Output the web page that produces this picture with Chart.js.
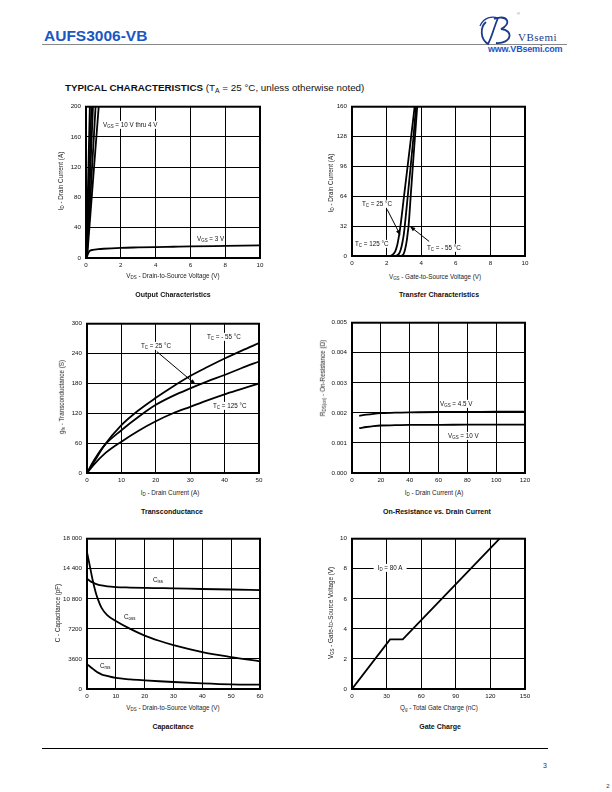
<!DOCTYPE html>
<html>
<head>
<meta charset="utf-8">
<script src="https://cdn.jsdelivr.net/npm/chart.js@4.4.1/dist/chart.umd.min.js"></script>
<style>
body{margin:0;width:612px;height:792px;position:relative;background:#fff;font-family:"Liberation Sans",Arial,sans-serif;color:#111;overflow:hidden}
.t{position:absolute;white-space:nowrap;line-height:1}
.c{transform:translate(-50%,-50%)}
.l{transform:translateY(-50%)}
.ry{transform:translate(-50%,-50%) rotate(-90deg)}
.ax{font-size:6.3px;color:#222}
.ttl{font-size:7px;font-weight:bold;color:#111}
.an{font-size:6.3px;color:#111;background:#fff;padding:1px 1px}
sub{font-size:70%;vertical-align:-0.3em;line-height:0}
canvas{position:absolute}
.hr{position:absolute}
</style>
</head>
<body>

<div class="t l" style="left:44px;top:36px;font-size:15.5px;font-weight:bold;color:#1a56c4">AUFS3006-VB</div>
<div class="hr" style="left:42px;top:43.5px;width:525px;height:1.5px;background:#888"></div>
<svg class="hr" style="left:477px;top:13px" width="40" height="34" viewBox="0 0 40 34">
  <path d="M9 9 C3 14, 3 26, 11 31 C15 24, 17 14, 21 5" fill="none" stroke="#1a3a8a" stroke-width="1.8"/>
  <path d="M17 6 C31 1, 35 11, 24 16 C37 17, 35 31, 19 30" fill="none" stroke="#1a3a8a" stroke-width="1.8"/>
  <path d="M3 13 C7 4, 15 3, 21 5" fill="none" stroke="#1a3a8a" stroke-width="1.3"/>
</svg>
<div class="t l" style="left:518px;top:36.5px;font-size:11px;font-family:'Liberation Serif','DejaVu Serif',serif;color:#1a3a8a;letter-spacing:0.5px;background:#fff">VBsemi</div>
<div class="t" style="left:517px;top:12px;font-size:4px;color:#777">®</div>
<div class="t l" style="left:488px;top:49px;font-size:9px;font-weight:bold;color:#1a56c4;letter-spacing:-0.2px">www.VBsemi.com</div>

<div class="t l" style="left:65px;top:88px;font-size:9.8px;color:#111"><b>TYPICAL CHARACTERISTICS</b> (T<sub>A</sub> = 25 °C, unless otherwise noted)</div>

<!-- chart 1 -->
<canvas id="c1"></canvas>
<div class="t c ax" style="left:173px;top:276px">V<sub>DS</sub> - Drain-to-Source Voltage (V)</div>
<div class="t ry ax" style="left:61px;top:181px">I<sub>D</sub> - Drain Current (A)</div>
<div class="t c ttl" style="left:173px;top:294px">Output Characteristics</div>
<div class="t l an" style="left:102px;top:125px">V<sub>GS</sub> = 10 V thru 4 V</div>
<div class="t l an" style="left:196px;top:239px">V<sub>GS</sub> = 3 V</div>

<!-- chart 2 -->
<canvas id="c2"></canvas>
<div class="t c ax" style="left:435px;top:276.5px">V<sub>GS</sub> - Gate-to-Source Voltage (V)</div>
<div class="t ry ax" style="left:331px;top:183px">I<sub>D</sub> - Drain Current (A)</div>
<div class="t c ttl" style="left:439px;top:294px">Transfer Characteristics</div>
<div class="t l an" style="left:361px;top:204px">T<sub>C</sub> = 25 °C</div>
<div class="t l an" style="left:354px;top:244px">T<sub>C</sub> = 125 °C</div>
<div class="t l an" style="left:426px;top:248px">T<sub>C</sub> = - 55 °C</div>

<!-- chart 3 -->
<canvas id="c3"></canvas>
<div class="t c ax" style="left:170px;top:492.5px">I<sub>D</sub> - Drain Current (A)</div>
<div class="t ry ax" style="left:62px;top:397px">g<sub>fs</sub> - Transconductance (S)</div>
<div class="t c ttl" style="left:172px;top:511px">Transconductance</div>
<div class="t l an" style="left:206px;top:337px">T<sub>C</sub> = - 55 °C</div>
<div class="t l an" style="left:140px;top:346px">T<sub>C</sub> = 25 °C</div>
<div class="t l an" style="left:212px;top:406px">T<sub>C</sub> = 125 °C</div>

<!-- chart 4 -->
<canvas id="c4"></canvas>
<div class="t c ax" style="left:434px;top:492.5px">I<sub>D</sub> - Drain Current (A)</div>
<div class="t ry ax" style="left:323px;top:378px">R<sub>DS(on)</sub> - On-Resistance (Ω)</div>
<div class="t c ttl" style="left:437px;top:511px">On-Resistance vs. Drain Current</div>
<div class="t l an" style="left:439px;top:404px">V<sub>GS</sub> = 4.5 V</div>
<div class="t l an" style="left:447px;top:436px">V<sub>GS</sub> = 10 V</div>

<!-- chart 5 -->
<canvas id="c5"></canvas>
<div class="t c ax" style="left:173px;top:707.5px">V<sub>DS</sub> - Drain-to-Source Voltage (V)</div>
<div class="t ry ax" style="left:57.5px;top:613px">C - Capacitance (pF)</div>
<div class="t c ttl" style="left:173px;top:726px">Capacitance</div>
<div class="t l an" style="left:152px;top:580px">C<sub>iss</sub></div>
<div class="t l an" style="left:123px;top:617px">C<sub>oss</sub></div>
<div class="t l an" style="left:99px;top:666px">C<sub>rss</sub></div>

<!-- chart 6 -->
<canvas id="c6"></canvas>
<div class="t c ax" style="left:439px;top:707.5px">Q<sub>g</sub> - Total Gate Charge (nC)</div>
<div class="t ry ax" style="left:331px;top:613px">V<sub>GS</sub> - Gate-to-Source Voltage (V)</div>
<div class="t c ttl" style="left:440px;top:726px">Gate Charge</div>
<div class="t c an" style="left:390px;top:568px;padding:1px 4px">I<sub>D</sub> = 80 A</div>

<div class="hr" style="left:42px;top:748px;width:506px;height:1px;background:#000"></div>
<div class="t c" style="left:545px;top:765px;font-size:7px;color:#333">3</div>
<div class="t c" style="left:608px;top:786px;font-size:6px;color:#333">2</div>

<script>
// Output Characteristics
const outHighId = [0, 200];
const outHighVds = [[0.02, 0.22], [0.03, 0.31], [0.04, 0.40], [0.05, 0.55], [0.06, 0.73]]; // V_GS = 10 V thru 4 V
const outVgs3Vds = [0, 0.1, 0.2, 0.4, 0.7, 1, 2, 3, 4, 5, 6, 8, 10];
const outVgs3Id = [0, 5, 9, 10.8, 11.6, 12.2, 13.4, 14, 14.5, 14.9, 15.3, 16, 16.7];

// Transfer Characteristics
const tr125Vgs = [0, 2.1, 2.35, 2.5, 2.62, 2.72, 2.8, 3.0, 3.2, 3.4, 3.62];
const tr125Id = [0, 0, 1.5, 5, 12, 22, 32, 63, 94, 125, 160];
const tr25Vgs = [0, 2.5, 2.7, 2.82, 2.92, 3.0, 3.05, 3.2, 3.4, 3.55, 3.7];
const tr25Id = [0, 0, 2, 7, 15, 24, 32, 60, 98, 127, 160];
const trM55Vgs = [0, 2.8, 2.98, 3.08, 3.17, 3.23, 3.27, 3.4, 3.55, 3.77];
const trM55Id = [0, 0, 2, 8, 17, 26, 32, 66, 105, 160];
const trArrow25 = [[2.03, 50], [2.8, 22]];
const trArrowM55 = [[4.46, 15.6], [3.34, 32]];

// Transconductance
const gfsId = [0, 2, 5, 10, 15, 20, 25, 30, 35, 40, 45, 50];
const gfsM55 = [0, 22, 55, 96, 126, 151, 174, 195, 213, 230, 246, 261];
const gfs25 = [0, 25, 55, 86, 113, 137, 155, 170, 184, 197, 211, 224];
const gfs125 = [0, 17, 38, 63, 85, 104, 120, 133, 146, 158, 169, 180];
const gfsArrow25 = [[20.3, 244], [31.6, 178]];

// On-Resistance vs. Drain Current
const rdsId = [5, 10, 15, 20, 30, 40, 60, 80, 100, 120];
const rdsVgs45 = [0.00190, 0.00194, 0.00197, 0.00199, 0.00201, 0.00202, 0.00203, 0.00203, 0.00204, 0.00204];
const rdsVgs10 = [0.00149, 0.00153, 0.00156, 0.00158, 0.00159, 0.00160, 0.00160, 0.00161, 0.00161, 0.00161];

// Capacitance
const capVds = [0, 1, 2, 3, 4, 5, 7, 10, 15, 20, 25, 30, 40, 50, 60];
const capCiss = [13200, 12950, 12750, 12600, 12480, 12400, 12280, 12200, 12150, 12110, 12080, 12050, 11980, 11920, 11850];
const capCoss = [16400, 14700, 13000, 11600, 10550, 9750, 8850, 8150, 7200, 6400, 5780, 5250, 4430, 3830, 3310];
const capCrss = [2950, 2700, 2430, 2150, 1930, 1760, 1560, 1320, 1160, 1040, 930, 840, 680, 560, 520];

// Gate Charge
const qgNc = [0, 33, 44, 128];
const qgVgs = [0, 3.3, 3.3, 10];

const pts = (xs, ys) => xs.map((x, i) => ({x: x, y: ys[i]}));

Chart.defaults.font.family = '"Liberation Sans", Arial, sans-serif';
Chart.defaults.font.size = 6.2;
Chart.defaults.color = '#111';

Chart.register({
    id: 'frame',
    afterDatasetsDraw(chart) {
        const a = chart.chartArea, ctx = chart.ctx;
        ctx.save();
        ctx.strokeStyle = '#000';
        ctx.lineWidth = 2;
        ctx.strokeRect(a.left, a.top, a.right - a.left, a.bottom - a.top);
        ctx.restore();
    }
});

Chart.register({
    id: 'arrows',
    afterDatasetsDraw(chart, args, opts) {
        const list = (opts && opts.list) || [];
        const ctx = chart.ctx, sx = chart.scales.x, sy = chart.scales.y;
        list.forEach(([from, to]) => {
            const x1 = sx.getPixelForValue(from[0]), y1 = sy.getPixelForValue(from[1]);
            const x2 = sx.getPixelForValue(to[0]), y2 = sy.getPixelForValue(to[1]);
            const ang = Math.atan2(y2 - y1, x2 - x1);
            ctx.save();
            ctx.strokeStyle = '#000';
            ctx.fillStyle = '#000';
            ctx.lineWidth = 1;
            ctx.beginPath();
            ctx.moveTo(x1, y1);
            ctx.lineTo(x2 - 4 * Math.cos(ang), y2 - 4 * Math.sin(ang));
            ctx.stroke();
            ctx.beginPath();
            ctx.moveTo(x2, y2);
            ctx.lineTo(x2 - 6 * Math.cos(ang - 0.35), y2 - 6 * Math.sin(ang - 0.35));
            ctx.lineTo(x2 - 6 * Math.cos(ang + 0.35), y2 - 6 * Math.sin(ang + 0.35));
            ctx.closePath();
            ctx.fill();
            ctx.restore();
        });
    }
});

function line(data, smooth) {
    return {
        data: data, borderColor: '#000', borderWidth: 1.8, pointRadius: 0,
        fill: false, tension: 0, cubicInterpolationMode: smooth ? 'monotone' : 'default'
    };
}

function makeChart(id, box, x, y, datasets, arrows) {
    const [left, top, w, h] = box;
    const cv = document.getElementById(id);
    cv.width = w + 57;
    cv.height = h + 22;
    cv.style.left = (left - 45) + 'px';
    cv.style.top = (top - 8) + 'px';
    const grid = { color: '#000', lineWidth: 1, drawTicks: false };
    return new Chart(cv.getContext('2d'), {
        type: 'line',
        data: { datasets: datasets },
        options: {
            responsive: false, animation: false, devicePixelRatio: 1,
            layout: { padding: { top: 8, right: 12, left: 0, bottom: 0 } },
            plugins: { legend: { display: false }, tooltip: { enabled: false }, arrows: { list: arrows || [] } },
            scales: {
                x: {
                    type: 'linear', min: x.min, max: x.max, grid: grid, border: { display: false },
                    ticks: { stepSize: x.step, padding: 4, maxRotation: 0, autoSkip: false, color: '#111' },
                    afterFit: s => { s.height = 14; }
                },
                y: {
                    type: 'linear', min: y.min, max: y.max, grid: grid, border: { display: false },
                    ticks: { stepSize: y.step, padding: 5, color: '#111', callback: y.fmt },
                    afterFit: s => { s.width = 45; }
                }
            }
        }
    });
}

makeChart('c1', [86, 106, 174, 152], { min: 0, max: 10, step: 2 }, { min: 0, max: 200, step: 40 }, [
    ...outHighVds.map(v => line(pts(v, outHighId), false)),
    line(pts(outVgs3Vds, outVgs3Id), true)
]);

makeChart('c2', [352, 106, 173, 150], { min: 0, max: 10, step: 2 }, { min: 0, max: 160, step: 32 }, [
    line(pts(tr125Vgs, tr125Id), true),
    line(pts(tr25Vgs, tr25Id), true),
    line(pts(trM55Vgs, trM55Id), true)
], [trArrow25, trArrowM55]);

makeChart('c3', [87, 323, 172, 150], { min: 0, max: 50, step: 10 }, { min: 0, max: 300, step: 60 }, [
    line(pts(gfsId, gfsM55), true),
    line(pts(gfsId, gfs25), true),
    line(pts(gfsId, gfs125), true)
], [gfsArrow25]);

makeChart('c4', [352, 322, 173, 151], { min: 0, max: 120, step: 20 },
    { min: 0, max: 0.005, step: 0.001, fmt: v => v.toFixed(3) }, [
    line(pts(rdsId, rdsVgs45), true),
    line(pts(rdsId, rdsVgs10), true)
]);

makeChart('c5', [87, 538, 173, 151], { min: 0, max: 60, step: 10 },
    { min: 0, max: 18000, step: 3600, fmt: v => v >= 10000 ? Math.floor(v / 1000) + ' ' + String(v % 1000).padStart(3, '0') : String(v) }, [
    line(pts(capVds, capCiss), true),
    line(pts(capVds, capCoss), true),
    line(pts(capVds, capCrss), true)
]);

makeChart('c6', [352, 538, 173, 151], { min: 0, max: 150, step: 30 }, { min: 0, max: 10, step: 2 }, [
    line(pts(qgNc, qgVgs), false)
]);
</script>
</body>
</html>
